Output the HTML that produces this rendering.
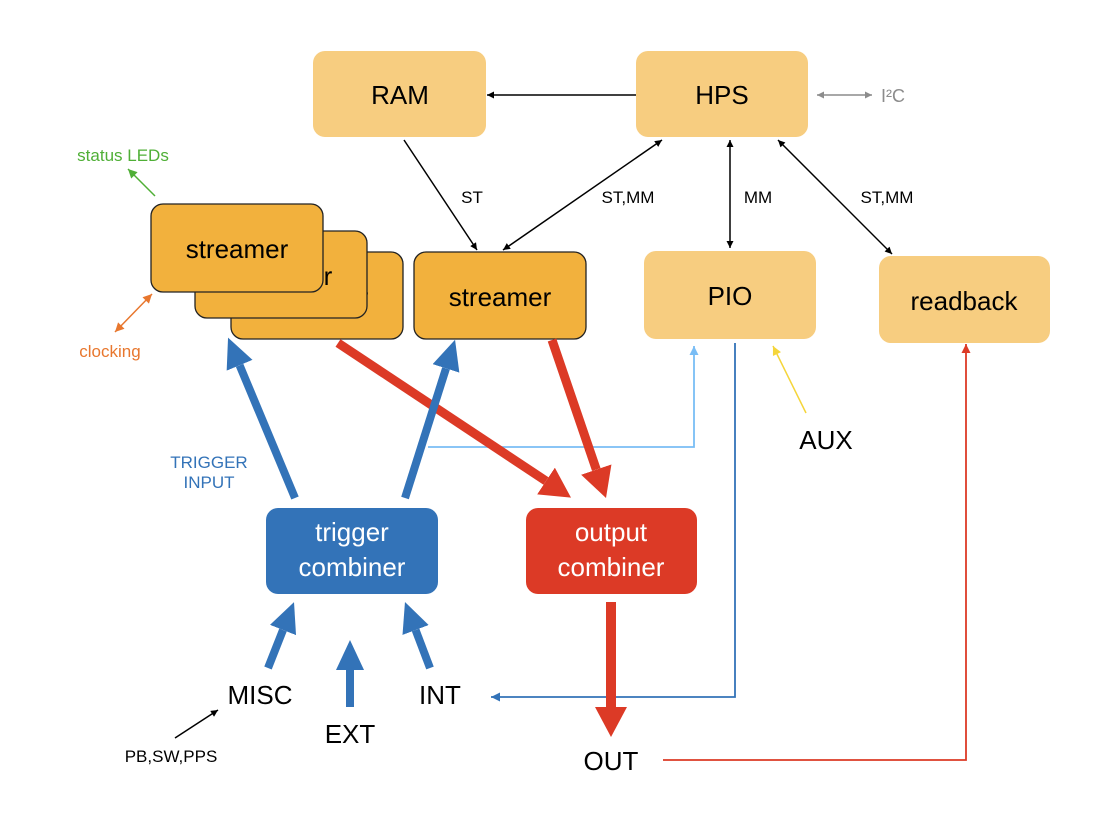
<!DOCTYPE html>
<html><head><meta charset="utf-8"><style>
html,body{margin:0;padding:0;background:#fff}
svg{display:block;font-family:"Liberation Sans",sans-serif}
</style></head><body>
<svg width="1120" height="821" viewBox="0 0 1120 821" xmlns="http://www.w3.org/2000/svg">
<defs>
<marker id="ab" viewBox="0 0 10 10" refX="10" refY="5" markerWidth="8" markerHeight="7" markerUnits="userSpaceOnUse" orient="auto-start-reverse"><path d="M0,0L10,5L0,10z" fill="#000"/></marker>
<marker id="ag" viewBox="0 0 10 10" refX="10" refY="5" markerWidth="8" markerHeight="7" markerUnits="userSpaceOnUse" orient="auto-start-reverse"><path d="M0,0L10,5L0,10z" fill="#8c8c8c"/></marker>
<marker id="agr" viewBox="0 0 10 10" refX="10" refY="5" markerWidth="10" markerHeight="9" markerUnits="userSpaceOnUse" orient="auto-start-reverse"><path d="M0,0L10,5L0,10z" fill="#4faf36"/></marker>
<marker id="aor" viewBox="0 0 10 10" refX="10" refY="5" markerWidth="10" markerHeight="9" markerUnits="userSpaceOnUse" orient="auto-start-reverse"><path d="M0,0L10,5L0,10z" fill="#e8772e"/></marker>
<marker id="ay" viewBox="0 0 10 10" refX="10" refY="5" markerWidth="10" markerHeight="9" markerUnits="userSpaceOnUse" orient="auto-start-reverse"><path d="M0,0L10,5L0,10z" fill="#f5d53a"/></marker>
<marker id="alb" viewBox="0 0 10 10" refX="10" refY="5" markerWidth="10" markerHeight="9" markerUnits="userSpaceOnUse" orient="auto"><path d="M0,0L10,5L0,10z" fill="#79bdf5"/></marker>
<marker id="abl" viewBox="0 0 10 10" refX="10" refY="5" markerWidth="10" markerHeight="9" markerUnits="userSpaceOnUse" orient="auto"><path d="M0,0L10,5L0,10z" fill="#3373b8"/></marker>
<marker id="ar" viewBox="0 0 10 10" refX="10" refY="5" markerWidth="10" markerHeight="9" markerUnits="userSpaceOnUse" orient="auto"><path d="M0,0L10,5L0,10z" fill="#dc3a26"/></marker>
<marker id="AB" viewBox="0 0 10 10" preserveAspectRatio="none" refX="0" refY="5" markerWidth="30" markerHeight="28" markerUnits="userSpaceOnUse" orient="auto"><path d="M0,0L10,5L0,10z" fill="#3373b8"/></marker>
<marker id="AR" viewBox="0 0 10 10" preserveAspectRatio="none" refX="0" refY="5" markerWidth="30" markerHeight="32" markerUnits="userSpaceOnUse" orient="auto"><path d="M0,0L10,5L0,10z" fill="#dc3a26"/></marker>
</defs>

<rect x="313" y="51" width="173" height="86" rx="12" fill="#f7cd80"/>
<text x="400" y="104" font-size="26" text-anchor="middle">RAM</text>
<rect x="636" y="51" width="172" height="86" rx="12" fill="#f7cd80"/>
<text x="722" y="104" font-size="26" text-anchor="middle">HPS</text>

<rect x="231" y="252" width="172" height="87" rx="12" fill="#f2b13d" stroke="#222" stroke-width="1.3"/>
<text x="317" y="306" font-size="26" text-anchor="middle">streamer</text>
<rect x="195" y="231" width="172" height="87" rx="12" fill="#f2b13d" stroke="#222" stroke-width="1.3"/>
<text x="281" y="285" font-size="26" text-anchor="middle">streamer</text>
<rect x="151" y="204" width="172" height="88" rx="12" fill="#f2b13d" stroke="#222" stroke-width="1.3"/>
<text x="237" y="258" font-size="26" text-anchor="middle">streamer</text>

<rect x="414" y="252" width="172" height="87" rx="12" fill="#f2b13d" stroke="#222" stroke-width="1.3"/>
<text x="500" y="306" font-size="26" text-anchor="middle">streamer</text>

<rect x="644" y="251" width="172" height="88" rx="12" fill="#f7cd80"/>
<text x="730" y="305" font-size="26" text-anchor="middle">PIO</text>
<rect x="879" y="256" width="171" height="87" rx="12" fill="#f7cd80"/>
<text x="964" y="310" font-size="26" text-anchor="middle">readback</text>

<rect x="266" y="508" width="172" height="86" rx="12" fill="#3373b8"/>
<text x="352" y="541" font-size="26" fill="#fff" text-anchor="middle">trigger</text>
<text x="352" y="576" font-size="26" fill="#fff" text-anchor="middle">combiner</text>
<rect x="526" y="508" width="171" height="86" rx="12" fill="#dc3a26"/>
<text x="611" y="541" font-size="26" fill="#fff" text-anchor="middle">output</text>
<text x="611" y="576" font-size="26" fill="#fff" text-anchor="middle">combiner</text>

<line x1="636" y1="95" x2="487" y2="95" stroke="#000" stroke-width="1.5" marker-end="url(#ab)"/>
<line x1="404" y1="140" x2="477" y2="250" stroke="#000" stroke-width="1.5" marker-end="url(#ab)"/>
<line x1="662" y1="140" x2="503" y2="250" stroke="#000" stroke-width="1.5" marker-start="url(#ab)" marker-end="url(#ab)"/>
<line x1="730" y1="140" x2="730" y2="248" stroke="#000" stroke-width="1.5" marker-start="url(#ab)" marker-end="url(#ab)"/>
<line x1="778" y1="140" x2="892" y2="254" stroke="#000" stroke-width="1.5" marker-start="url(#ab)" marker-end="url(#ab)"/>
<text x="472" y="203" font-size="17" text-anchor="middle">ST</text>
<text x="628" y="203" font-size="17" text-anchor="middle">ST,MM</text>
<text x="758" y="203" font-size="17" text-anchor="middle">MM</text>
<text x="887" y="203" font-size="17" text-anchor="middle">ST,MM</text>

<line x1="817" y1="95" x2="872" y2="95" stroke="#8c8c8c" stroke-width="1.5" marker-start="url(#ag)" marker-end="url(#ag)"/>
<text x="881" y="102" font-size="18" fill="#8c8c8c">I²C</text>

<line x1="155" y1="196" x2="128" y2="169" stroke="#4faf36" stroke-width="1.5" marker-end="url(#agr)"/>
<text x="123" y="161" font-size="17" fill="#4faf36" text-anchor="middle">status LEDs</text>
<line x1="152" y1="294" x2="115" y2="332" stroke="#e8772e" stroke-width="1.5" marker-start="url(#aor)" marker-end="url(#aor)"/>
<text x="110" y="357" font-size="17" fill="#e8772e" text-anchor="middle">clocking</text>

<polyline points="428,447 694,447 694,346" fill="none" stroke="#79bdf5" stroke-width="1.8" marker-end="url(#alb)"/>
<polyline points="735,343 735,697 491,697" fill="none" stroke="#3373b8" stroke-width="1.8" marker-end="url(#abl)"/>
<line x1="806" y1="413" x2="773" y2="346" stroke="#f5d53a" stroke-width="1.5" marker-end="url(#ay)"/>
<polyline points="663,760 966,760 966,344" fill="none" stroke="#dc3a26" stroke-width="1.8" marker-end="url(#ar)"/>
<line x1="175" y1="738" x2="218" y2="710" stroke="#000" stroke-width="1.5" marker-end="url(#ab)"/>

<line x1="338" y1="343" x2="546" y2="481" stroke="#dc3a26" stroke-width="9" marker-end="url(#AR)"/>
<line x1="552" y1="340" x2="596.3" y2="469.6" stroke="#dc3a26" stroke-width="9" marker-end="url(#AR)"/>
<line x1="611" y1="602" x2="611" y2="707" stroke="#dc3a26" stroke-width="10" marker-end="url(#AR)"/>
<line x1="295" y1="498" x2="239.6" y2="365.3" stroke="#3373b8" stroke-width="8" marker-end="url(#AB)"/>
<line x1="405" y1="498" x2="446" y2="368.4" stroke="#3373b8" stroke-width="8" marker-end="url(#AB)"/>
<line x1="268" y1="668" x2="283" y2="630" stroke="#3373b8" stroke-width="8" marker-end="url(#AB)"/>
<line x1="350" y1="707" x2="350" y2="670" stroke="#3373b8" stroke-width="8" marker-end="url(#AB)"/>
<line x1="430" y1="668" x2="415.6" y2="630" stroke="#3373b8" stroke-width="8" marker-end="url(#AB)"/>

<text x="209" y="468" font-size="17" fill="#3373b8" text-anchor="middle">TRIGGER</text>
<text x="209" y="488" font-size="17" fill="#3373b8" text-anchor="middle">INPUT</text>
<text x="260" y="704" font-size="26" text-anchor="middle">MISC</text>
<text x="350" y="743" font-size="26" text-anchor="middle">EXT</text>
<text x="440" y="704" font-size="26" text-anchor="middle">INT</text>
<text x="611" y="770" font-size="26" text-anchor="middle">OUT</text>
<text x="826" y="449" font-size="26" text-anchor="middle">AUX</text>
<text x="171" y="762" font-size="17" text-anchor="middle">PB,SW,PPS</text>
</svg>
</body></html>
